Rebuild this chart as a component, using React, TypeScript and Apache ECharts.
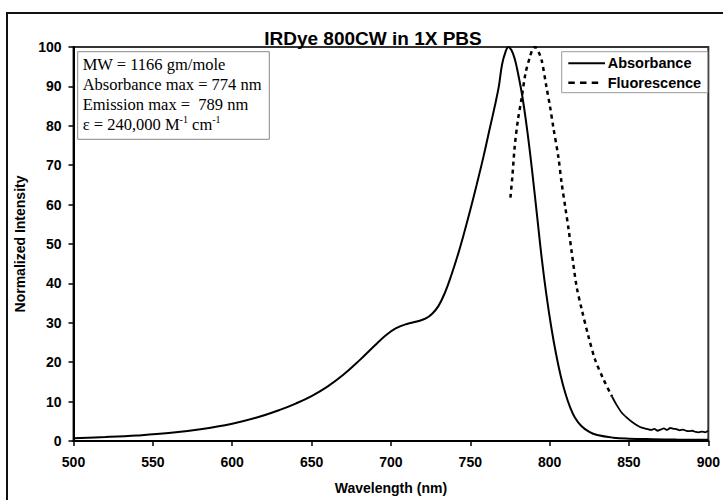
import React, { useEffect, useRef } from "react";
import * as echarts from "echarts";

const chartTitle = "IRDye 800CW in 1X PBS";
const xAxisName = "Wavelength (nm)";
const yAxisName = "Normalized Intensity";
const xMin = 500;
const xMax = 900;
const xStep = 50;
const yMin = 0;
const yMax = 100;
const yStep = 10;

const seriesNames = ["Absorbance", "Fluorescence"];

const absWavelength = [
  500, 520, 540, 560, 580, 600, 615, 630, 640, 650, 660, 670, 680, 690, 697, 703, 710, 717, 722, 726,
  730, 734, 738, 742, 746, 750, 754, 758, 762, 766, 768, 770, 772, 774, 776, 778, 780, 783, 786, 789,
  792, 795, 798, 801, 804, 807, 810, 813, 816, 820, 825, 830, 840, 850, 865, 880, 900,
];
const absValue = [
  0.7, 1.0, 1.4, 2.0, 3.0, 4.4, 5.9, 7.9, 9.5, 11.4, 13.8, 16.8, 20.4, 24.3, 26.9, 28.6, 29.7, 30.4, 31.1, 32.3,
  34.3, 37.6, 42.0, 47.0, 52.6, 58.6, 65.0, 71.6, 78.8, 86.0, 90.0, 95.5, 98.5, 100, 99.2, 97.0, 93.5, 87.0, 78.5, 68.5,
  57.5, 46.5, 37.0, 29.0, 22.2, 16.5, 12.0, 8.5, 5.9, 3.8, 2.3, 1.5, 0.85, 0.6, 0.45, 0.35, 0.3,
];

const fluWavelength = [
  775.3, 776.5, 778, 780, 782.3, 784.8, 787.6, 789.5, 791, 793, 795, 798, 800.3, 802.3, 805.5, 807.6, 810, 812,
  814, 817, 820.3, 824.5, 828.7, 834, 839.3, 842, 845.6, 849, 852, 855, 858, 861, 864, 866, 868, 870, 872, 874,
  876, 878, 880, 882, 884, 886, 888, 890, 892, 894, 896, 898, 900,
];
const fluValue = [
  61.8, 67, 74.7, 81.4, 86.9, 93.3, 97.5, 99.6, 100, 98.8, 96.6, 89.9, 84.8, 79.7, 72.1, 65.4, 59, 53.6,
  47.7, 39.2, 33.3, 26.5, 20.6, 15.6, 11.3, 9.3, 7.1, 5.8, 4.8, 4.0, 3.4, 3.1, 2.8, 3.1, 2.6, 2.9, 3.2, 2.8,
  3.3, 3.1, 3.0, 2.7, 2.9, 2.6, 2.5, 2.6, 2.3, 2.2, 2.4, 2.2, 2.6,
];
// beyond this wavelength the noisy fluorescence trace reads as a continuous line
const fluSolidFrom = 839.3;

const infoLines = ["MW = 1166 gm/mole", "Absorbance max = 774 nm", "Emission max =  789 nm"];
const epsilonParts = ["\u03b5 = 240,000 M", "-1", " cm", "-1"];

const SANS = "'Liberation Sans', Arial, sans-serif";
const SERIF = "'Liberation Serif', 'Times New Roman', serif";

export default function App() {
  const ref = useRef<HTMLDivElement>(null);

  useEffect(() => {
    if (!ref.current) return;
    const chart = echarts.init(ref.current, undefined, { renderer: "svg" });
    const absData = absWavelength.map((x, i) => [x, absValue[i]]);
    const fluData = fluWavelength.map((x, i) => [x, fluValue[i]]);
    const fluDashed = fluData.filter((p) => p[0] <= fluSolidFrom);
    const fluSolid = fluData.filter((p) => p[0] >= fluSolidFrom);

    const infoText =
      infoLines.join("\n") +
      `\n{n|${epsilonParts[0]}}{s|${epsilonParts[1]}}{n|${epsilonParts[2]}}{s|${epsilonParts[3]}}`;

    const legendTextStyle = {
      fontFamily: SANS,
      fontWeight: "bold",
      fontSize: 14.5,
      fill: "#000",
      textAlign: "left",
      textVerticalAlign: "middle",
    };

    chart.setOption({
      animation: false,
      backgroundColor: "#fff",
      grid: {
        left: 73.5,
        right: 13,
        top: 47,
        bottom: 58,
        show: true,
        borderColor: "#333",
        borderWidth: 2,
        containLabel: false,
      },
      xAxis: {
        type: "value",
        min: xMin,
        max: xMax,
        interval: xStep,
        name: xAxisName,
        nameLocation: "middle",
        nameGap: 40,
        nameTextStyle: { fontFamily: SANS, fontWeight: "bold", fontSize: 14, color: "#000" },
        axisLine: { show: true, lineStyle: { color: "#000", width: 2 } },
        axisTick: { show: true, length: 5, lineStyle: { color: "#000", width: 1.5 } },
        axisLabel: { margin: 14, fontFamily: SANS, fontWeight: "bold", fontSize: 14, color: "#000" },
        splitLine: { show: false },
      },
      yAxis: {
        type: "value",
        min: yMin,
        max: yMax,
        interval: yStep,
        name: yAxisName,
        nameLocation: "middle",
        nameGap: 40,
        nameTextStyle: { fontFamily: SANS, fontWeight: "bold", fontSize: 14, color: "#000" },
        axisLine: { show: true, lineStyle: { color: "#000", width: 2 } },
        axisTick: { show: true, length: 5, lineStyle: { color: "#000", width: 1.5 } },
        axisLabel: { margin: 12, fontFamily: SANS, fontWeight: "bold", fontSize: 14, color: "#000" },
        splitLine: { show: false },
      },
      graphic: [
        {
          type: "rect",
          shape: { x: 7, y: 13, width: 800, height: 600 },
          style: { fill: "none", stroke: "#111", lineWidth: 2 },
          silent: true,
          z: 0,
        },
        {
          type: "text",
          x: 373,
          y: 38,
          style: {
            text: chartTitle,
            fontFamily: SANS,
            fontWeight: "bold",
            fontSize: 19,
            fill: "#000",
            textAlign: "center",
            textVerticalAlign: "middle",
          },
          z: 10,
        },
        {
          type: "rect",
          shape: { x: 77.7, y: 51.7, width: 191.6, height: 87.6 },
          style: { fill: "#fff", stroke: "#888", lineWidth: 1 },
          z: 10,
        },
        {
          type: "text",
          x: 82.7,
          y: 54.5,
          style: {
            text: infoText,
            fontFamily: SERIF,
            fontSize: 16.5,
            lineHeight: 20,
            fill: "#000",
            textAlign: "left",
            textVerticalAlign: "top",
            rich: {
              n: { fontFamily: SERIF, fontSize: 16.5, lineHeight: 20, fill: "#000" },
              s: { fontFamily: SERIF, fontSize: 10, lineHeight: 13, fill: "#000", verticalAlign: "top" },
            },
          },
          z: 11,
        },
        {
          type: "rect",
          shape: { x: 561.7, y: 51.7, width: 146, height: 41 },
          style: { fill: "#fff", stroke: "#999", lineWidth: 1 },
          z: 10,
        },
        {
          type: "line",
          shape: { x1: 568.3, y1: 63.3, x2: 605, y2: 63.3 },
          style: { stroke: "#000", lineWidth: 2 },
          z: 11,
        },
        {
          type: "line",
          shape: { x1: 568.3, y1: 82.7, x2: 598.5, y2: 82.7 },
          style: { stroke: "#000", lineWidth: 2.5, lineDash: [6.5, 5.2] },
          z: 11,
        },
        {
          type: "text",
          x: 607.7,
          y: 63.3,
          style: { ...legendTextStyle, text: seriesNames[0] },
          z: 11,
        },
        {
          type: "text",
          x: 607.7,
          y: 82.7,
          style: { ...legendTextStyle, text: seriesNames[1] },
          z: 11,
        },
      ],
      series: [
        {
          name: seriesNames[0],
          type: "line",
          data: absData,
          symbol: "none",
          showSymbol: false,
          smooth: 0.4,
          lineStyle: { color: "#000", width: 2 },
          itemStyle: { color: "#000" },
          z: 3,
        },
        {
          name: seriesNames[1],
          type: "line",
          data: fluDashed,
          symbol: "none",
          showSymbol: false,
          smooth: 0.3,
          lineStyle: { color: "#000", width: 2.5, type: [4, 4] },
          itemStyle: { color: "#000" },
          z: 3,
        },
        {
          name: seriesNames[1],
          type: "line",
          data: fluSolid,
          symbol: "none",
          showSymbol: false,
          smooth: 0.2,
          lineStyle: { color: "#000", width: 1.8 },
          itemStyle: { color: "#000" },
          z: 3,
        },
      ],
    });
    return () => chart.dispose();
  }, []);

  return (
    <div
      ref={ref}
      style={{ position: "fixed", left: 0, top: 0, width: 723, height: 500, background: "#fff" }}
    />
  );
}
